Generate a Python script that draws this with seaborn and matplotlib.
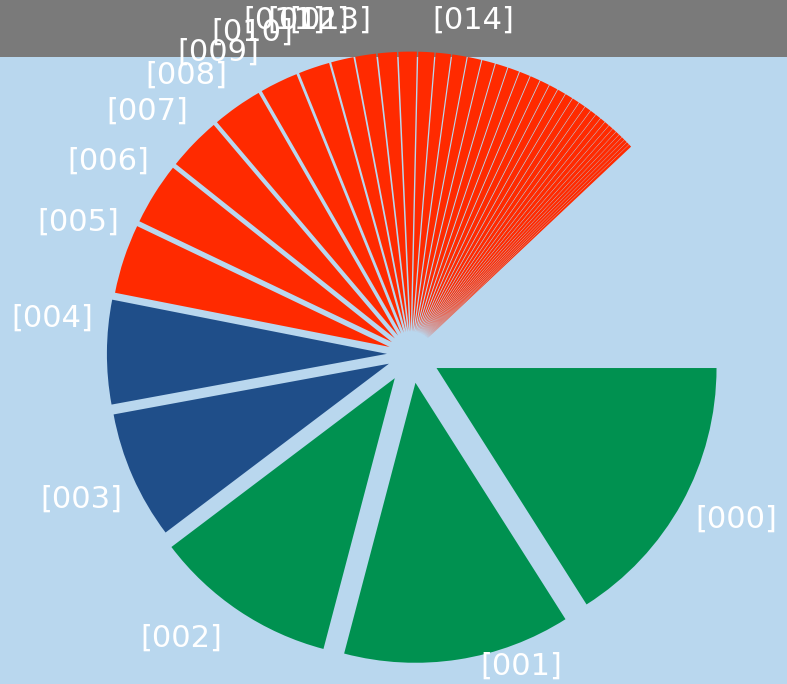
import matplotlib

matplotlib.use("Agg")
import numpy as np
import matplotlib.pyplot as plt
import seaborn as sns
from matplotlib.patches import Rectangle

# share of the full circle, in percent (the slices do not close the circle)
main_shares = [16.0, 13.1, 10.6, 7.4, 6.0, 4.0, 3.6, 3.1, 2.9, 2.2,
               1.8, 1.3, 1.2, 1.1, 1.05]
tail_shares = [0.92, 0.88, 0.83, 0.78, 0.74, 0.69, 0.65, 0.61, 0.57, 0.54,
               0.50, 0.47, 0.44, 0.41, 0.38, 0.36, 0.34, 0.32, 0.30, 0.28,
               0.26, 0.24, 0.22, 0.20, 0.19, 0.18, 0.17, 0.16]
main_labels = ["[000]", "[001]", "[002]", "[003]", "[004]", "[005]", "[006]",
               "[007]", "[008]", "[009]", "[010]", "[011]", "[012]", "[013]",
               "[014]"]
group_sizes = {"green": 3, "blue": 2}

palette = {"green": "#009150", "blue": "#1f4e89", "red": "#ff2a00"}
explode_by_group = {"green": 0.104, "blue": 0.086, "red": 0.08}
BG = "#b9d7ee"
BAR = "#7a7a7a"

# the original label layout drifts a little from the slice middles
# (degrees, clockwise on screen)
label_nudge = [-2, -9.5, 5.5, 0, 5.7, 3.5, 0.5, -1.5, -4, -7,
               -8, -8, -8.5, -9, 11.4]

sns.set_theme(style="white")
plt.rcParams["font.family"] = ["DejaVu Sans"]

shares = main_shares + tail_shares
groups = (["green"] * group_sizes["green"] + ["blue"] * group_sizes["blue"])
groups += ["red"] * (len(shares) - len(groups))
colors = [palette[g] for g in groups]
explode = [explode_by_group[g] for g in groups]

W, H = 787, 684
cx, cy, R = 411, 354, 280  # pie centre / radius in pixels

fig = plt.figure(figsize=(W / 100, H / 100), dpi=100, facecolor=BG)
fig.patches.append(Rectangle((0, 1 - 57 / H), 1, 57 / H, transform=fig.transFigure,
                             facecolor=BAR, edgecolor="none", zorder=-5))

ax = fig.add_axes([0, 0, 1, 1])
ax.patch.set_alpha(0)
ax.set_zorder(1)

wedges, _ = ax.pie(
    [s / 100 for s in shares],
    colors=colors,
    explode=explode,
    startangle=0,
    counterclock=False,
    normalize=False,
    wedgeprops={"linewidth": 0, "antialiased": True},
)

# labels, kept inside the canvas like the original renderer does
top, bottom = (cy - 20) / R, (cy - 666) / R
for w, lab, nudge in zip(wedges, main_labels, label_nudge):
    ang = np.deg2rad((w.theta1 + w.theta2) / 2 - nudge)
    x = w.center[0] + 1.2 * np.cos(ang)
    y = w.center[1] + 1.2 * np.sin(ang)
    ax.text(x, min(max(y, bottom), top), lab, color="white", fontsize=22,
            ha="center", va="center", zorder=5)

ax.set_xlim(-cx / R, (W - cx) / R)
ax.set_ylim((cy - H) / R, cy / R)
ax.set_aspect("auto")
ax.axis("off")

fig.savefig("out.png", dpi=100, facecolor=BG)
